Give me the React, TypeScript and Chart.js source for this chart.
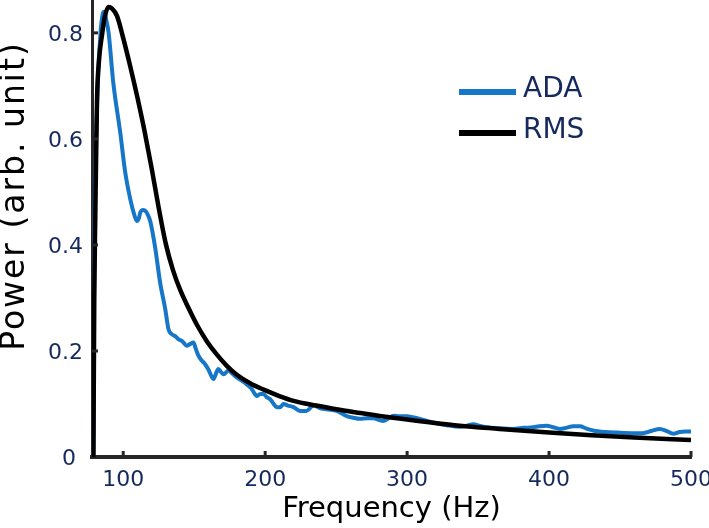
import React, { useEffect, useRef } from 'react';
import { Chart, registerables } from 'chart.js';

Chart.register(...registerables);

// ---- data ----
const adaFreq = [
  79, 79.5, 80.5, 82, 84, 85.5, 86.5, 88, 89.7, 93, 97.9, 101.4, 105, 108, 109.6, 111, 112, 114, 116, 117.8,
  119, 122.5, 126, 129.6, 131.9, 134, 136.6, 139, 141.3, 144.8, 147, 149.5, 151, 153, 155, 157.7, 160, 163.6,
  165, 167, 169, 170.7, 174, 177, 180, 184, 187, 190, 192, 194, 196.5, 198.8, 201, 203.5, 206, 208, 210.6,
  212.9, 216, 220, 224.6, 229, 234, 239, 243.5, 250.5, 257.5, 262, 266.9, 272, 276, 283, 287, 290.4, 295,
  299.8, 304, 309, 318.5, 328, 337, 342, 346.7, 351, 356, 365, 374.6, 382, 388.7, 393, 398.4, 403, 407.7,
  412, 417, 421.8, 426, 431, 440, 447.7, 458, 466, 472, 478, 483, 487.5, 492, 496, 500,
];
const adaPower = [
  0, 0.35, 0.55, 0.70, 0.80, 0.835, 0.84, 0.825, 0.80, 0.706, 0.612, 0.537, 0.486, 0.455, 0.445, 0.45, 0.461,
  0.466, 0.463, 0.454, 0.445, 0.395, 0.329, 0.279, 0.241, 0.232, 0.228, 0.222, 0.219, 0.21, 0.213, 0.216,
  0.205, 0.191, 0.183, 0.175, 0.165, 0.147, 0.155, 0.166, 0.16, 0.156, 0.163, 0.157, 0.15, 0.143, 0.137,
  0.13, 0.122, 0.115, 0.119, 0.119, 0.113, 0.109, 0.1, 0.094, 0.094, 0.1, 0.097, 0.094, 0.087, 0.087, 0.097,
  0.092, 0.09, 0.087, 0.077, 0.074, 0.072, 0.073, 0.073, 0.068, 0.073, 0.078, 0.077, 0.077, 0.075, 0.072,
  0.065, 0.06, 0.057, 0.059, 0.062, 0.059, 0.056, 0.054, 0.053, 0.055, 0.056, 0.058, 0.059, 0.056, 0.053,
  0.055, 0.058, 0.058, 0.054, 0.05, 0.047, 0.046, 0.045, 0.045, 0.049, 0.053, 0.049, 0.044, 0.047, 0.048,
  0.048,
];
const rmsFreq = [
  79, 79.6, 80.3, 81.5, 83, 85, 87, 89.6, 92, 95.6, 100, 105, 110, 115, 120, 125, 130, 135,
  140, 146, 152, 159, 166, 173, 180, 190, 199, 210, 220, 236, 250, 267, 290, 314, 337, 365, 400, 430, 460, 500,
];
const rmsPower = [
  0, 0.3, 0.45, 0.67, 0.75, 0.795, 0.83, 0.849, 0.846, 0.832, 0.79, 0.736, 0.678, 0.615, 0.545, 0.47,
  0.402, 0.353, 0.316, 0.281, 0.249, 0.218, 0.193, 0.172, 0.155, 0.138, 0.127, 0.115, 0.106, 0.097,
  0.09, 0.083, 0.074, 0.066, 0.059, 0.053, 0.046, 0.041, 0.037, 0.032,
];

const seriesNames = ['ADA', 'RMS'];
const xTicks = [100, 200, 300, 400, 500];
const xTickLabels = ['100', '200', '300', '400', '500'];
const yTicks = [0, 0.2, 0.4, 0.6, 0.8];
const yTickLabels = ['0 ', '0.2', '0.4', '0.6', '0.8'];
const xTitle = 'Frequency (Hz)';
const yTitle = 'Power (arb. unit)';
const xMin = 78;
const xMax = 500;
const yMin = 0;
const yMax = 0.862;

// ---- styles ----
const BLUE = '#1677c9';
const BLACK = '#000000';
const NAVY = '#15295c';
const AXIS = '#262626';
const FONT = '"DejaVu Sans", Verdana, sans-serif';

const decorPlugin = {
  id: 'decor',
  afterDraw(chart: any) {
    const ctx = chart.ctx as CanvasRenderingContext2D;
    const xs = chart.scales.x;
    const ys = chart.scales.y;
    const area = chart.chartArea;
    ctx.save();
    // inward tick marks
    ctx.fillStyle = AXIS;
    xTicks.forEach((v) => {
      const px = xs.getPixelForValue(v);
      ctx.fillRect(px - 1.5, area.bottom - 6, 3, 6);
    });
    yTicks.forEach((v) => {
      if (v === 0) return;
      const py = ys.getPixelForValue(v);
      ctx.fillRect(area.left, py - 1.5, 6, 3);
    });

    // y-axis title
    ctx.save();
    ctx.translate(24, 196);
    ctx.rotate(-Math.PI / 2);
    ctx.font = `33px ${FONT}`;
    (ctx as any).letterSpacing = '2px';
    ctx.textAlign = 'center';
    ctx.textBaseline = 'alphabetic';
    ctx.fillStyle = '#000';
    ctx.fillText(yTitle, 0, 0);
    ctx.restore();

    // legend
    const colors = [BLUE, BLACK];
    const ys0 = [92, 133];
    ctx.font = `28px ${FONT}`;
    ctx.textAlign = 'left';
    ctx.textBaseline = 'middle';
    seriesNames.forEach((name, i) => {
      ctx.strokeStyle = colors[i];
      ctx.lineWidth = 6;
      ctx.beginPath();
      ctx.moveTo(459, ys0[i]);
      ctx.lineTo(516, ys0[i]);
      ctx.stroke();
      ctx.fillStyle = NAVY;
      ctx.fillText(name, 523, ys0[i] - 2);
    });
    ctx.restore();
  },
};

export default function App() {
  const canvasRef = useRef<HTMLCanvasElement | null>(null);

  useEffect(() => {
    const canvas = canvasRef.current;
    if (!canvas) return;
    const chart = new Chart(canvas, {
      type: 'line',
      data: {
        datasets: [
          {
            label: seriesNames[0],
            data: adaFreq.map((f, i) => ({ x: f, y: adaPower[i] })),
            borderColor: BLUE,
            backgroundColor: BLUE,
            borderWidth: 4,
            pointRadius: 0,
            cubicInterpolationMode: 'monotone',
            fill: false,
            order: 2,
          },
          {
            label: seriesNames[1],
            data: rmsFreq.map((f, i) => ({ x: f, y: rmsPower[i] })),
            borderColor: BLACK,
            backgroundColor: BLACK,
            borderWidth: 4.5,
            pointRadius: 0,
            cubicInterpolationMode: 'monotone',
            fill: false,
            order: 1,
          },
        ],
      },
      options: {
        responsive: false,
        animation: false,
        devicePixelRatio: 1,
        layout: { padding: { left: 0, right: 18, top: 0, bottom: 0 } },
        plugins: {
          legend: { display: false },
          tooltip: { enabled: false },
        },
        scales: {
          x: {
            type: 'linear',
            min: xMin,
            max: xMax,
            afterFit: (s: any) => {
              s.height = 71;
              s.paddingLeft = 0;
              s.paddingRight = 0;
            },
            afterBuildTicks: (s: any) => {
              s.ticks = xTicks.map((v) => ({ value: v }));
            },
            grid: { display: false, drawTicks: false },
            border: { display: true, color: AXIS, width: 4 },
            ticks: {
              padding: 10,
              color: NAVY,
              font: { family: FONT, size: 22 },
              maxRotation: 0,
              autoSkip: false,
              callback: (v: any) => {
                const i = xTicks.indexOf(Number(v));
                return i >= 0 ? xTickLabels[i] : '';
              },
            },
            title: {
              display: true,
              text: xTitle,
              color: '#000',
              font: { family: FONT, size: 29 },
              padding: { top: 0, bottom: 1 },
            },
          },
          y: {
            type: 'linear',
            min: yMin,
            max: yMax,
            afterFit: (s: any) => {
              s.width = 92;
              s.paddingTop = 0;
              s.paddingBottom = 0;
            },
            afterBuildTicks: (s: any) => {
              s.ticks = yTicks.map((v) => ({ value: v }));
            },
            grid: { display: false, drawTicks: false },
            border: { display: true, color: AXIS, width: 3 },
            ticks: {
              padding: 9,
              labelOffset: 2,
              color: NAVY,
              font: { family: FONT, size: 22 },
              autoSkip: false,
              callback: (v: any) => {
                const i = yTicks.findIndex((t) => Math.abs(t - Number(v)) < 1e-9);
                return i >= 0 ? yTickLabels[i] : '';
              },
            },
            title: { display: false },
          },
        },
      },
      plugins: [decorPlugin],
    } as any);
    return () => chart.destroy();
  }, []);

  return (
    <div style={{ position: 'absolute', left: 0, top: 0, width: 709, height: 528, background: '#fff' }}>
      <canvas ref={canvasRef} width={709} height={528} style={{ display: 'block', width: 709, height: 528 }} />
    </div>
  );
}
